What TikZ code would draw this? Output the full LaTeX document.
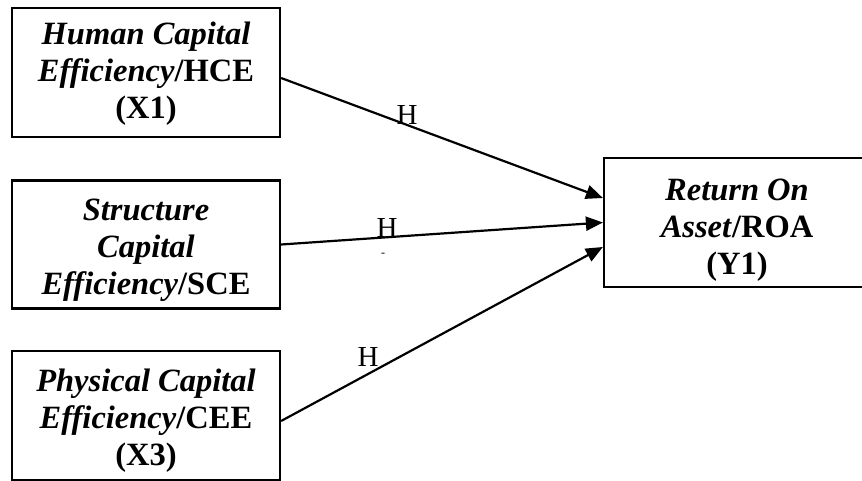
\documentclass[tikz,border=0pt]{standalone}
\usepackage{fontspec}
\setmainfont{Liberation Serif}
\usetikzlibrary{arrows.meta}
\tikzset{
  varbox/.style={draw=black, line width=2.2pt, rectangle, inner sep=0pt},
  vartext/.style={align=center, inner sep=0pt, font=\fontsize{32.5}{37}\selectfont\bfseries},
  hyp/.style={font=\fontsize{29}{30}\selectfont, inner sep=0pt},
  link/.style={line width=2.2pt, -{Triangle[length=17pt,width=14pt]}}
}
\begin{document}
\begin{tikzpicture}[x=1pt,y=-1pt]
\useasboundingbox (0,0) rectangle (862,481);
\clip (0,0) rectangle (862,481);
\node[varbox, minimum width=268pt, minimum height=129pt] (b1) at (146,72.5) {};
\node[varbox, minimum width=268pt, minimum height=128pt] (b2) at (146,244.5) {};
\node[varbox, minimum width=268pt, minimum height=129pt] (b3) at (146,415.5) {};
\node[varbox, minimum width=266pt, minimum height=129pt] (r) at (737,222.5) {};
\node[vartext] (t1) at (146,74) {\textit{Human Capital}\\\textit{Efficiency}/HCE\\(X1)};
\node[vartext] (t2) at (146,250) {\textit{Structure}\\\textit{Capital}\\\textit{Efficiency}/SCE};
\node[vartext] (t3) at (146,420.5) {\textit{Physical Capital}\\\textit{Efficiency}/CEE\\(X3)};
\node[vartext] (t4) at (737,230.5) {\textit{Return On}\\\textit{Asset}/ROA\\(Y1)};
\draw[link] ([yshift=-5.5pt]b1.east) -- ([yshift=24.5pt]r.west);
\draw[link] (b2.east) -- (r.west);
\draw[link] ([yshift=-5.5pt]b3.east) -- ([yshift=-24.5pt]r.west);
\node[hyp] (h1) at (407,115) {H};
\node[hyp] (h2) at (387,228) {H};
\node[font=\fontsize{12}{12}\selectfont, inner sep=0pt] (h2s) at (383,255) {-};
\node[hyp] (h3) at (368,357) {H};
\end{tikzpicture}
\end{document}
